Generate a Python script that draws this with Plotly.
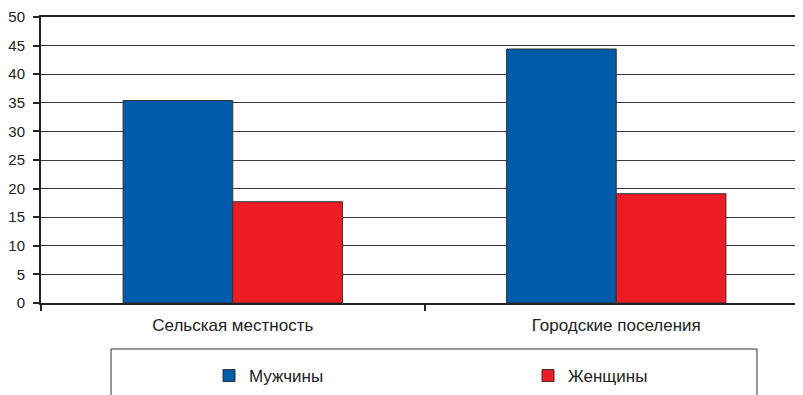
import plotly.graph_objects as go

categories = ["Сельская местность", "Городские поселения"]
series_names = ["Мужчины", "Женщины"]
men = [35.4, 44.4]
women = [17.7, 19.1]
y_ticks = [0, 5, 10, 15, 20, 25, 30, 35, 40, 45, 50]

blue = "#005BAA"
red = "#ED1C24"
FONT = "Liberation Sans, Arial, sans-serif"

# page body has an 8px margin, so the figure is sized to fit the window
W, H = 795, 387
OFF = 8
L, T, B = 41 - OFF, 17 - OFF, 395 - 303
PW, PH = W - L, H - T - B

fig = go.Figure()
fig.add_trace(go.Bar(x=categories, y=men, name=series_names[0],
                     marker=dict(color=blue, line=dict(color="#333333", width=1))))
fig.add_trace(go.Bar(x=categories, y=women, name=series_names[1],
                     marker=dict(color=red, line=dict(color="#333333", width=1))))

fig.update_layout(
    width=W, height=H,
    margin=dict(l=L, r=0, t=T, b=B, autoexpand=False),
    paper_bgcolor="white", plot_bgcolor="white",
    barmode="group", bargap=0.428, bargroupgap=0,
    font=dict(family=FONT, color="#222222", size=14),
    showlegend=True,
    legend=dict(orientation="h", xref="container", yref="container",
                x=(222 - 13 - OFF) / W, y=1 - (376 - OFF) / H, xanchor="left", yanchor="middle",
                entrywidth=274, entrywidthmode="pixels",
                itemwidth=30, font=dict(size=17, family=FONT, color="#222222"),
                bgcolor="rgba(0,0,0,0)", borderwidth=0),
    shapes=[dict(type="rect", xref="paper", yref="paper",
                 x0=(111 - 41) / PW, x1=(757 - 41) / PW,
                 y0=-(400 - 303) / PH, y1=-(349 - 303) / PH,
                 line=dict(color="#333333", width=1), fillcolor="rgba(0,0,0,0)")],
)

fig.update_xaxes(range=[-0.5, 1.5 - 5 / 383], showline=True, linecolor="#222222", linewidth=2,
                 mirror=True, ticks="outside", tickson="boundaries", ticklen=6,
                 tickcolor="#222222", tickwidth=2, showgrid=False,
                 tickfont=dict(size=17, family=FONT, color="#222222"), ticklabelstandoff=6)
fig.update_yaxes(range=[0, 50], tickvals=y_ticks, showline=True, linecolor="#222222", linewidth=2,
                 ticks="outside", ticklen=6, tickcolor="#222222", tickwidth=2,
                 showgrid=True, gridcolor="#3a3a3a", gridwidth=1, zeroline=False,
                 ticklabelstandoff=5,
                 tickfont=dict(size=15, family=FONT, color="#222222"))

fig.write_html("out.html")
